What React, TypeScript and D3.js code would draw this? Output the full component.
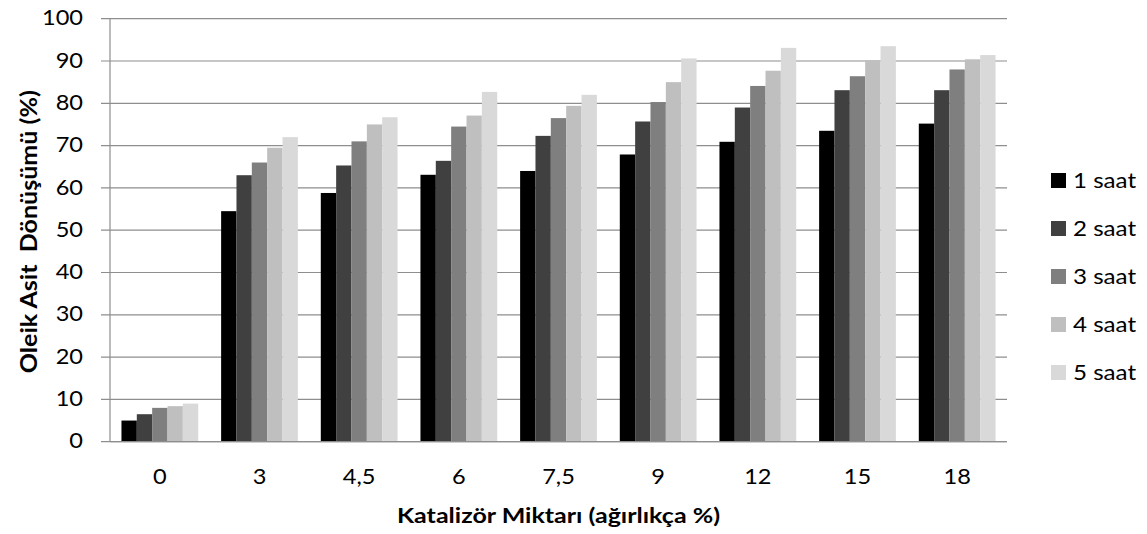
import React from "react";
import * as d3 from "d3";

// Catalyst amounts (wt %) on the x axis
const categories = ["0", "3", "4,5", "6", "7,5", "9", "12", "15", "18"];

// Oleic acid conversion (%) per reaction time
const seriesNames = ["1 saat", "2 saat", "3 saat", "4 saat", "5 saat"];
const saat1 = [5.0, 54.5, 58.8, 63.1, 64.0, 67.9, 70.9, 73.5, 75.2];
const saat2 = [6.5, 63.0, 65.3, 66.4, 72.3, 75.7, 79.0, 83.1, 83.1];
const saat3 = [8.0, 66.0, 71.0, 74.5, 76.5, 80.3, 84.1, 86.4, 88.0];
const saat4 = [8.4, 69.5, 75.0, 77.1, 79.4, 85.0, 87.7, 90.2, 90.4];
const saat5 = [9.0, 72.0, 76.7, 82.7, 82.0, 90.6, 93.1, 93.5, 91.4];
const seriesValues = [saat1, saat2, saat3, saat4, saat5];

const yTicks = [0, 10, 20, 30, 40, 50, 60, 70, 80, 90, 100];

const colors = ["#000000", "#404040", "#7f7f7f", "#bfbfbf", "#d9d9d9"];

const xTitle = "Katalizör Miktarı (ağırlıkça %)";
const yTitle = "Oleik Asit  Dönüşümü (%)";

const W = 1147;
const H = 534;
const plot = { left: 110, right: 1007, top: 18.7, bottom: 441.7 };
const FONT = "Lato, 'Open Sans', sans-serif";
const SX = 1.15; // horizontal widening of the label glyphs
const grid = "#8e8e8e";

export default function App() {
  const x = d3
    .scaleBand<string>()
    .domain(categories)
    .range([plot.left, plot.right])
    .paddingInner(0.23)
    .paddingOuter(0.115);
  const inner = d3
    .scaleBand<string>()
    .domain(seriesNames)
    .range([0, x.bandwidth()]);
  const y = d3.scaleLinear().domain([0, 100]).range([plot.bottom, plot.top]);

  const legendY = d3
    .scalePoint<string>()
    .domain(seriesNames)
    .range([181, 373]);

  return (
    <svg
      width={W}
      height={H}
      style={{ position: "absolute", left: 0, top: 0, background: "#fff" }}
      fontFamily={FONT}
    >
      {/* horizontal gridlines, left tick marks and value labels */}
      {yTicks.map((t) => (
        <g key={"g" + t}>
          <line
            x1={plot.left - 9}
            x2={plot.right}
            y1={y(t)}
            y2={y(t)}
            stroke={grid}
            strokeWidth={1.2}
          />
          <text
            transform={`translate(83,${y(t) + 6.6}) scale(${SX},1)`}
            textAnchor="end"
            fontSize={20.5}
            fill="#000"
          >
            {t}
          </text>
        </g>
      ))}

      {/* bars */}
      {categories.map((c, ci) => (
        <g key={c} transform={`translate(${x(c)},0)`}>
          {seriesNames.map((s, si) => {
            const v = seriesValues[si][ci];
            return (
              <rect
                key={s}
                x={inner(s)}
                y={y(v)}
                width={inner.bandwidth()}
                height={y(0) - y(v)}
                fill={colors[si]}
              />
            );
          })}
        </g>
      ))}

      {/* axis lines */}
      <line
        x1={plot.left}
        x2={plot.left}
        y1={plot.top}
        y2={plot.bottom}
        stroke={grid}
        strokeWidth={1.2}
      />
      <line
        x1={plot.left}
        x2={plot.right}
        y1={plot.bottom}
        y2={plot.bottom}
        stroke={grid}
        strokeWidth={1.2}
      />

      {/* category labels */}
      {categories.map((c) => (
        <text
          key={"x" + c}
          transform={`translate(${(x(c) as number) + x.bandwidth() / 2},484) scale(${SX},1)`}
          textAnchor="middle"
          fontSize={20.5}
          fill="#000"
        >
          {c}
        </text>
      ))}

      {/* axis titles */}
      <text
        x={(plot.left + plot.right) / 2}
        y={523}
        textAnchor="middle"
        fontSize={21}
        fontWeight="bold"
        textLength={323}
        lengthAdjust="spacingAndGlyphs"
        fill="#000"
      >
        {xTitle}
      </text>
      <text
        transform={`translate(37,${(plot.top + plot.bottom) / 2 + 1.5}) scale(1.08,1) rotate(-90)`}
        textAnchor="middle"
        fontSize={21.5}
        fontWeight="bold"
        textLength={283}
        lengthAdjust="spacingAndGlyphs"
        style={{ whiteSpace: "pre" }}
        fill="#000"
      >
        {yTitle}
      </text>

      {/* legend */}
      {seriesNames.map((s, si) => (
        <g key={"l" + s} transform={`translate(0,${legendY(s)})`}>
          <rect x={1051} y={-8} width={15} height={15} fill={colors[si]} />
          <text
            transform={`translate(1073,7) scale(${SX},1)`}
            fontSize={21}
            fill="#000"
          >
            {s}
          </text>
        </g>
      ))}
    </svg>
  );
}
